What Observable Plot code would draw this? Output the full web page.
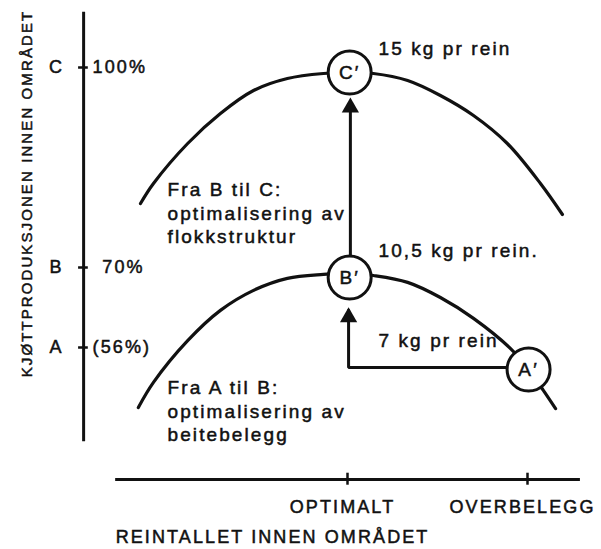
<!DOCTYPE html>
<html><head><meta charset="utf-8">
<script src="https://cdn.jsdelivr.net/npm/d3@7"></script>
<script src="https://cdn.jsdelivr.net/npm/@observablehq/plot@0.6"></script>
<style>
body{margin:0;background:#fff;}
svg{display:block;background:#fff;}
svg text{font-family:"Liberation Sans",Arial,sans-serif;fill:#111;letter-spacing:2.1px;stroke:#111;stroke-width:0.5px;}
g[aria-label="ytitle"] text{letter-spacing:0.8px;stroke-width:0.3px;}
g[aria-label="xtitle"] text{letter-spacing:1.35px;}
g[aria-label="xticklabels"] text{letter-spacing:1.5px;}
</style>
</head><body><div id="chart"></div>
<script>
// x: reindeer number index (optimum = 100, overgrazing = 150)
// y: meat production level in the area (%)
const upperX = [42.5, 46.1, 55.6, 64.7, 73.9, 83.3, 93.3, 100.6, 107.2, 116.7, 125.8, 135.0, 144.4, 153.6, 159.7];
const upperY = [79.6, 82.6, 88.6, 93.1, 96.55, 98.35, 99.1, 99.25, 99.1, 98.05, 95.8, 92.8, 88.6, 82.6, 77.95];
const lowerX = [41.9, 46.1, 55.6, 64.7, 73.9, 83.3, 93.3, 100.6, 107.2, 116.7, 125.8, 135.0, 145.3, 150.3, 154.4, 157.8];
const lowerY = [45.5, 49.9, 57.2, 62.5, 66.0, 68.1, 68.8, 69.0, 68.6, 67.4, 64.75, 61.1, 55.8, 52.15, 48.5, 45.3];

const levelNames = ["A", "B", "C"];
const levelValues = [56, 70, 100];
const levelLabels = ["(56%)", "70%", "100%"];

const xTickValues = [100, 150];
const xTickLabels = ["OPTIMALT", "OVERBELEGG"];

const stateNames = ["A′", "B′", "C′"];
const stateX = [150.3, 100.6, 100.6];
const stateY = [52.15, 68.25, 99.25];

const yieldLabels = ["7 kg pr rein", "10,5 kg pr rein.", "15 kg pr rein"];
const yieldY = [57.2, 72.55, 102.85];

const noteLabels = ["Fra A til B:\noptimalisering av\nbeitebelegg", "Fra B til C:\noptimalisering av\nflokkstruktur"];
const noteY = [45.0, 78.3];

const yTitle = "KJØTTPRODUKSJONEN INNEN OMRÅDET";
const xTitle = "REINTALLET INNEN OMRÅDET";

// tables built from the arrays
const upper = upperX.map((x, i) => ({x, y: upperY[i]}));
const lower = lowerX.map((x, i) => ({x, y: lowerY[i]}));
const levels = levelNames.map((name, i) => ({name, value: levelValues[i], label: levelLabels[i]}));
const xTicks = xTickValues.map((x, i) => ({x, label: xTickLabels[i]}));
const states = stateNames.map((name, i) => ({name, x: stateX[i], y: stateY[i]}));
const yields = yieldLabels.map((t, i) => ({t, y: yieldY[i]}));
const notes = noteLabels.map((t, i) => ({t, y: noteY[i]}));

// arrows: B' -> C' (vertical), A' -> B' (elbow)
const arrowUp = [{x: 100.8, y: 71.8}, {x: 100.8, y: 94}];
const arrowElbow = [{x: 144.2, y: 52.5}, {x: 100.3, y: 52.5}, {x: 100.3, y: 62.5}];
const heads = [{x: 100.8, y: 94.0}, {x: 100.3, y: 61.3}];

// axis placement (in scale units)
const yAxisX = 26.7, xAxisY = 32.9;

const chart = Plot.plot({
  width: 601,
  height: 549,
  margin: 0,
  x: {type: "linear", domain: [100, 150], range: [347, 527], axis: null},
  y: {type: "linear", domain: [56, 70, 100], range: [347, 267, 67], axis: null},
  style: {background: "white"},
  marks: [
    // y axis
    Plot.ruleX([yAxisX], {x: d => d, y1: 108.3, y2: 39.5, strokeWidth: 3, stroke: "#111"}),
    Plot.ruleY(levels, {y: "value", x1: 25.3, x2: 28.0, strokeWidth: 2.5, stroke: "#111"}),
    Plot.text(levels, {x: 19.2, y: "value", text: "name", fontSize: 18, textAnchor: "middle"}),
    Plot.text(levels.filter(d => d.name !== "B"), {x: 29.2, y: "value", text: "label", fontSize: 18, textAnchor: "start"}),
    Plot.text(levels.filter(d => d.name === "B"), {x: 31.9, y: "value", text: "label", fontSize: 18, textAnchor: "start"}),
    Plot.text([yTitle], {x: 11.1, y: 81.1, text: d => d, rotate: -90, fontSize: 15, textAnchor: "middle", ariaLabel: "ytitle"}),
    // x axis
    Plot.ruleY([xAxisY], {y: d => d, x1: 35.6, x2: 164.7, strokeWidth: 3, stroke: "#111"}),
    Plot.ruleX(xTicks, {x: "x", y1: 31.9, y2: 34.0, strokeWidth: 2.5, stroke: "#111"}),
    Plot.text(xTicks, {x: "x", y: 28.0, dx: -5, text: "label", fontSize: 18, textAnchor: "middle", ariaLabel: "xticklabels"}),
    Plot.text([xTitle], {x: 35.6, y: 22.75, text: d => d, fontSize: 18, textAnchor: "start", ariaLabel: "xtitle"}),
    // curves
    Plot.line(upper, {x: "x", y: "y", curve: "catmull-rom", strokeWidth: 3.2, stroke: "#111"}),
    Plot.line(lower, {x: "x", y: "y", curve: "catmull-rom", strokeWidth: 3.2, stroke: "#111"}),
    // arrows
    Plot.line(arrowUp, {x: "x", y: "y", strokeWidth: 3, stroke: "#111"}),
    Plot.line(arrowElbow, {x: "x", y: "y", strokeWidth: 3, stroke: "#111", strokeLinejoin: "miter"}),
    Plot.dot(heads, {x: "x", y: "y", symbol: "triangle", r: 6.4, fill: "#111", stroke: "none"}),
    // state circles
    Plot.dot(states, {x: "x", y: "y", r: 21.5, fill: "white", stroke: "#111", strokeWidth: 3}),
    Plot.text(states, {x: "x", y: "y", text: "name", fontSize: 19, textAnchor: "middle"}),
    // annotations
    Plot.text(yields, {x: 108.6, y: "y", text: "t", fontSize: 19, textAnchor: "start"}),
    Plot.text(notes, {x: 50, y: "y", text: "t", fontSize: 19, textAnchor: "start", lineHeight: 1.24})
  ]
});
document.getElementById("chart").appendChild(chart);
</script>
</body></html>
